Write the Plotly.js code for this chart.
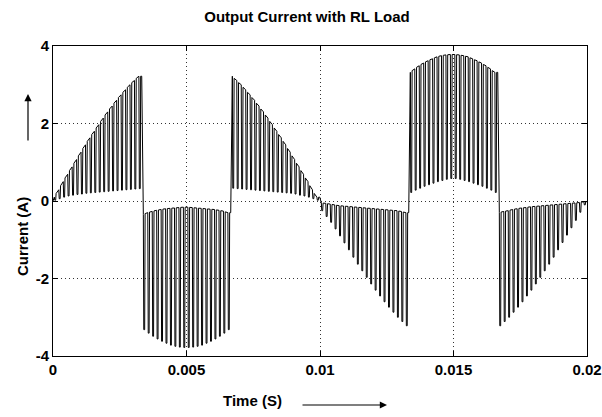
<!DOCTYPE html>
<html>
<head>
<meta charset="utf-8">
<script src="https://cdn.plot.ly/plotly-3.0.1.min.js"></script>
<style>html,body{margin:0;padding:0;background:#fff;}#chart{width:602px;height:417px;}</style>
</head>
<body>
<div id="chart"></div>
<script>
// Segment start times (s) and switching period
const segStart = [0, 0.0033333, 0.0066667, 0.01, 0.0133333, 0.0166667];
const pulsePeriod = 0.00016667;

// Per-pulse upper (base) and lower (notch) current levels, A
const upper1 = [0.10, 0.29, 0.50, 0.69, 0.88, 1.07, 1.26, 1.45, 1.63, 1.80, 1.97, 2.14, 2.30, 2.45, 2.60, 2.74, 2.87, 3.00, 3.11, 3.22];
const lower1 = [0.02, 0.06, 0.10, 0.13, 0.15, 0.17, 0.18, 0.20, 0.21, 0.22, 0.23, 0.24, 0.25, 0.26, 0.27, 0.28, 0.29, 0.30, 0.31, 0.32];
const upper2 = [-0.35, -0.30, -0.27, -0.24, -0.22, -0.20, -0.19, -0.18, -0.17, -0.16, -0.16, -0.17, -0.18, -0.19, -0.20, -0.21, -0.22, -0.24, -0.26, -0.30];
const lower2 = [-3.32, -3.41, -3.49, -3.56, -3.62, -3.67, -3.72, -3.75, -3.77, -3.78, -3.78, -3.77, -3.75, -3.72, -3.67, -3.62, -3.56, -3.49, -3.41, -3.32];
const upper3 = [3.22, 3.11, 3.00, 2.87, 2.74, 2.60, 2.45, 2.30, 2.14, 1.97, 1.80, 1.63, 1.45, 1.26, 1.07, 0.88, 0.69, 0.50, 0.29, 0.10];
const lower3 = [0.33, 0.32, 0.31, 0.30, 0.29, 0.28, 0.27, 0.26, 0.25, 0.24, 0.23, 0.22, 0.21, 0.20, 0.18, 0.15, 0.13, 0.10, 0.06, 0.02];
const upper4 = [-0.05, -0.06, -0.08, -0.10, -0.12, -0.13, -0.14, -0.15, -0.16, -0.17, -0.18, -0.19, -0.20, -0.21, -0.22, -0.23, -0.24, -0.25, -0.27, -0.30];
const lower4 = [-0.25, -0.40, -0.55, -0.72, -0.90, -1.08, -1.26, -1.45, -1.63, -1.80, -1.97, -2.14, -2.30, -2.45, -2.60, -2.74, -2.87, -3.00, -3.11, -3.22];
const upper5 = [3.32, 3.41, 3.49, 3.56, 3.62, 3.67, 3.72, 3.75, 3.77, 3.78, 3.78, 3.77, 3.75, 3.72, 3.67, 3.62, 3.56, 3.49, 3.41, 3.32];
const lower5 = [0.22, 0.28, 0.33, 0.38, 0.42, 0.46, 0.50, 0.53, 0.56, 0.58, 0.58, 0.56, 0.53, 0.50, 0.46, 0.42, 0.38, 0.33, 0.28, 0.22];
const upper6 = [-0.30, -0.27, -0.25, -0.22, -0.20, -0.18, -0.17, -0.15, -0.14, -0.13, -0.12, -0.11, -0.10, -0.09, -0.08, -0.07, -0.06, -0.05, -0.04, -0.02];
const lower6 = [-3.22, -3.11, -3.00, -2.87, -2.74, -2.60, -2.45, -2.30, -2.14, -1.97, -1.80, -1.63, -1.45, -1.26, -1.07, -0.88, -0.69, -0.50, -0.29, -0.10];

const xTicks = [0, 0.005, 0.01, 0.015, 0.02];
const xTickText = ['0', '0.005', '0.01', '0.015', '0.02'];
const yTicks = [-4, -2, 0, 2, 4];
const yTickText = ['-4', '-2', '0', '2', '4'];

const uppers = [upper1, upper2, upper3, upper4, upper5, upper6];
const lowers = [lower1, lower2, lower3, lower4, lower5, lower6];

const xs = [0], ys = [0];
uppers.forEach((up, s) => {
  const lo = lowers[s];
  up.forEach((u, k) => {
    const tc = segStart[s] + (k + 0.5) * pulsePeriod;
    const nextU = k + 1 < up.length ? up[k + 1] : u;
    xs.push(tc - 0.2 * pulsePeriod); ys.push(u);
    xs.push(tc - 0.1 * pulsePeriod); ys.push(lo[k]);
    xs.push(tc + 0.1 * pulsePeriod); ys.push(lo[k]);
    xs.push(tc + 0.2 * pulsePeriod); ys.push((u + nextU) / 2);
  });
  const segEnd = s + 1 < segStart.length ? segStart[s + 1] : 0.02;
  xs.push(segEnd - 0.00001); ys.push(up[up.length - 1]);
});

const font = {family: 'Liberation Sans, Arial, sans-serif', color: '#000'};

const trace = {
  x: xs, y: ys, type: 'scatter', mode: 'lines',
  line: {color: '#000', width: 1},
  hoverinfo: 'skip', showlegend: false
};

const axisCommon = {
  showline: true, linecolor: '#000', linewidth: 1, mirror: 'ticks',
  ticks: 'inside', ticklen: 5, tickcolor: '#000', tickwidth: 1,
  showgrid: true, gridcolor: '#333', gridwidth: 1, griddash: '1px,3px',
  zeroline: false,
  tickfont: Object.assign({size: 15, weight: 'bold'}, font)
};

const layout = {
  width: 602, height: 417,
  margin: {l: 53, r: 15, t: 46, b: 61},
  paper_bgcolor: '#fff', plot_bgcolor: '#fff',
  title: {text: 'Output Current with RL Load', x: 307/602, xref: 'container', xanchor: 'center',
          y: 1 - 17/417, yref: 'container', yanchor: 'middle',
          font: Object.assign({size: 15, weight: 'bold'}, font)},
  xaxis: Object.assign({}, axisCommon, {range: [0, 0.02], tickvals: xTicks, ticktext: xTickText}),
  yaxis: Object.assign({}, axisCommon, {range: [-4, 4], tickvals: yTicks, ticktext: yTickText}),
  annotations: [
    {text: 'Time (S)', xref: 'paper', yref: 'paper', x: (252-53)/534, y: -(400-356)/310,
     xanchor: 'center', yanchor: 'middle', showarrow: false,
     font: Object.assign({size: 15, weight: 'bold'}, font)},
    {text: 'Current (A)', xref: 'paper', yref: 'paper', x: (22-53)/534, y: (356-237)/310,
     xanchor: 'center', yanchor: 'middle', showarrow: false, textangle: -90,
     font: Object.assign({size: 15, weight: 'bold'}, font)},
    {text: '', xref: 'paper', yref: 'paper', x: (387-53)/534, y: -(405-356)/310,
     axref: 'pixel', ayref: 'pixel', ax: -86, ay: 0, showarrow: true,
     arrowhead: 2, arrowsize: 1.2, arrowwidth: 1.2, arrowcolor: '#000'},
    {text: '', xref: 'paper', yref: 'paper', x: (28-53)/534, y: (356-94)/310,
     axref: 'pixel', ayref: 'pixel', ax: 0, ay: 48, showarrow: true,
     arrowhead: 2, arrowsize: 1.2, arrowwidth: 1.2, arrowcolor: '#000'}
  ]
};

Plotly.newPlot('chart', [trace], layout, {displayModeBar: false, staticPlot: true});
</script>
</body>
</html>
